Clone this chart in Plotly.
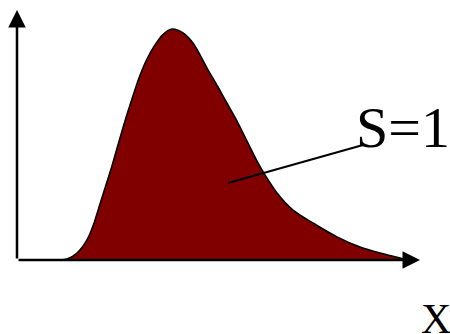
import plotly.graph_objects as go

# Curve (x in arbitrary units, y normalised so peak = 1)
curve_x = [1.075, 1.25, 1.5, 1.75, 1.9, 2.075, 2.225, 2.375, 2.525, 2.7, 2.875, 3.05, 3.25,
           3.45, 3.65, 3.875, 4.15, 4.4, 4.775, 5.025, 5.275, 5.525, 5.775, 6.025,
           6.2, 6.5, 6.9, 7.4, 8.0, 8.575, 9.075, 9.575, 9.825]
curve_y = [0.0, 0.004, 0.030, 0.087, 0.147, 0.242, 0.325, 0.407, 0.498, 0.602, 0.697, 0.788, 0.870,
           0.931, 0.976, 1.0, 0.983, 0.939, 0.823, 0.749, 0.671, 0.593, 0.506, 0.420,
           0.368, 0.290, 0.216, 0.160, 0.100, 0.056, 0.030, 0.009, 0.0]

area_label = "S=1"
axis_label = "X"

# axis extents
x_end = 10.075
y_end = 1.082
label_point = [5.275, 0.333]
label_anchor = [8.65, 0.498]

fig = go.Figure()
fig.add_trace(go.Scatter(
    x=curve_x, y=curve_y, mode="lines",
    line=dict(color="black", width=1.6, shape="spline", smoothing=0.8),
    fill="tozeroy", fillcolor="#800000", hoverinfo="skip", showlegend=False))

# leader line
fig.add_shape(type="line", x0=label_point[0], y0=label_point[1],
              x1=label_anchor[0], y1=label_anchor[1], line=dict(color="black", width=2))

# axes with arrows
for tip in [(x_end, 0), (0, y_end)]:
    fig.add_annotation(x=tip[0], y=tip[1], ax=0, ay=0, axref="x", ayref="y",
                       xref="x", yref="y", text="", showarrow=True,
                       arrowhead=2, arrowwidth=2.5, arrowsize=1.4, arrowcolor="black")

fig.add_annotation(x=403 / 450, y=(334 - 127) / 334, xref="paper", yref="paper",
                   text=area_label, showarrow=False, xanchor="center", yanchor="middle",
                   font=dict(family="Liberation Serif", size=58, color="black"))
fig.add_annotation(x=436 / 450, y=(334 - 319) / 334, xref="paper", yref="paper",
                   text=axis_label, showarrow=False, xanchor="center", yanchor="middle",
                   font=dict(family="Liberation Serif", size=42, color="black"))

fig.update_layout(
    width=450, height=334, margin=dict(l=0, r=0, t=0, b=0),
    paper_bgcolor="white", plot_bgcolor="white",
    xaxis=dict(range=[-0.425, 10.825], visible=False),
    yaxis=dict(range=[-0.3203, 1.1255], visible=False),
)
fig.write_html("out.html", config={"displayModeBar": False},
               post_script="document.body.style.margin='0';document.body.style.overflow='hidden';")
